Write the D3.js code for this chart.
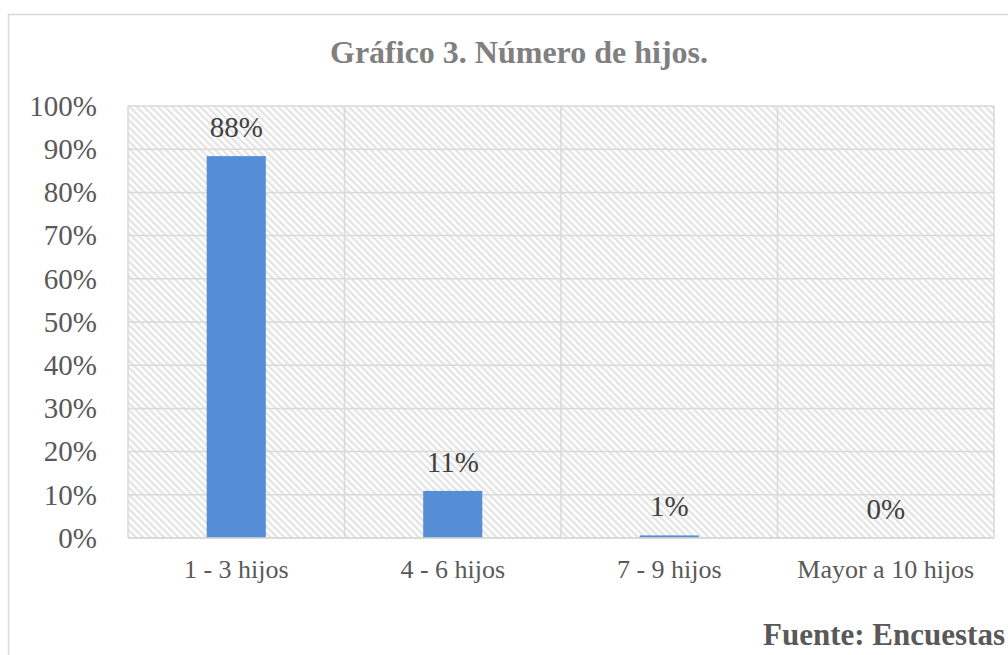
<!DOCTYPE html>
<html>
<head>
<meta charset="utf-8">
<script src="https://cdn.jsdelivr.net/npm/d3@7"></script>
<style>
  html, body { margin: 0; padding: 0; background: #fff; }
  svg { display: block; }
</style>
</head>
<body>
<script>
const categories = ["1 - 3 hijos", "4 - 6 hijos", "7 - 9 hijos", "Mayor a 10 hijos"];
const values = [0.884, 0.109, 0.006, 0];
const yTicks = [0, 0.1, 0.2, 0.3, 0.4, 0.5, 0.6, 0.7, 0.8, 0.9, 1.0];
const titleText = "Gráfico 3. Número de hijos.";
const sourceText = "Fuente: Encuestas";

const W = 1008, H = 655;
const plot = { left: 128, right: 994, top: 106, bottom: 538 };
const font = "'Liberation Serif', 'Times New Roman', Times, serif";

const svg = d3.select("body").append("svg").attr("width", W).attr("height", H);

const defs = svg.append("defs");
const pat = defs.append("pattern")
  .attr("id", "hatch").attr("patternUnits", "userSpaceOnUse")
  .attr("width", 5).attr("height", 5)
  .attr("patternTransform", "rotate(-45)");
pat.append("rect").attr("width", 5).attr("height", 5).attr("fill", "#ffffff");
pat.append("rect").attr("x", 0).attr("width", 2.4).attr("height", 5).attr("fill", "#e4e4e4");

// outer chart border
svg.append("rect")
  .attr("x", 8.5).attr("y", 14.5).attr("width", W + 20).attr("height", H + 20)
  .attr("fill", "#fff").attr("stroke", "#d9d9d9").attr("stroke-width", 1.5);

const x = d3.scaleBand().domain(categories).range([plot.left, plot.right]).paddingInner(0).paddingOuter(0);
const y = d3.scaleLinear().domain([0, 1]).range([plot.bottom, plot.top]);

// plot background hatch
svg.append("rect")
  .attr("x", plot.left).attr("y", plot.top)
  .attr("width", plot.right - plot.left).attr("height", plot.bottom - plot.top)
  .attr("fill", "url(#hatch)");

// horizontal gridlines
svg.append("g").selectAll("line").data(yTicks).join("line")
  .attr("x1", plot.left).attr("x2", plot.right)
  .attr("y1", d => y(d)).attr("y2", d => y(d))
  .attr("stroke", "#d9d9d9").attr("stroke-width", 1.5);

// vertical gridlines at category boundaries
const bounds = categories.map(c => x(c)).concat([x(categories[categories.length - 1]) + x.bandwidth()]);
svg.append("g").selectAll("line").data(bounds).join("line")
  .attr("x1", d => d).attr("x2", d => d)
  .attr("y1", plot.top).attr("y2", plot.bottom)
  .attr("stroke", "#d9d9d9").attr("stroke-width", 1.5);

// bars
const barW = x.bandwidth() * 0.273;
svg.append("g").selectAll("rect").data(values).join("rect")
  .attr("x", (d, i) => x(categories[i]) + x.bandwidth() / 2 - barW / 2)
  .attr("y", d => y(d))
  .attr("width", barW)
  .attr("height", d => y(0) - y(d))
  .attr("fill", "#558ed5");

// redraw baseline over bars
svg.append("line")
  .attr("x1", plot.left).attr("x2", plot.right)
  .attr("y1", y(0)).attr("y2", y(0))
  .attr("stroke", "#d9d9d9").attr("stroke-width", 1.5);

// data labels
svg.append("g").selectAll("text").data(values).join("text")
  .attr("x", (d, i) => x(categories[i]) + x.bandwidth() / 2)
  .attr("y", d => y(d) - 19)
  .attr("text-anchor", "middle")
  .style("font-family", font).attr("font-size", 29)
  .attr("fill", "#404040")
  .text(d => Math.round(d * 100) + "%");

// y axis labels
const yAxis = d3.axisLeft(y).tickValues(yTicks).tickFormat(d => Math.round(d * 100) + "%").tickSize(0).tickPadding(31);
const yg = svg.append("g").attr("transform", `translate(${plot.left},0)`).call(yAxis)
  .attr("font-family", null);
yg.select(".domain").remove();
yg.selectAll("text").style("font-family", font).attr("font-size", 29).attr("fill", "#595959");

// x axis labels
const xAxis = d3.axisBottom(x).tickSize(0).tickPadding(22);
const xg = svg.append("g").attr("transform", `translate(0,${plot.bottom})`).call(xAxis)
  .attr("font-family", null);
xg.select(".domain").remove();
xg.selectAll("text").style("font-family", font).attr("font-size", 26).attr("fill", "#595959");

// title
svg.append("text")
  .attr("x", 519).attr("y", 63)
  .attr("text-anchor", "middle")
  .style("font-family", font).attr("font-size", 32).attr("font-weight", "bold")
  .attr("fill", "#808080")
  .text(titleText);

// source
svg.append("text")
  .attr("x", 1005).attr("y", 645)
  .attr("text-anchor", "end")
  .style("font-family", font).attr("font-size", 31).attr("font-weight", "bold")
  .attr("fill", "#595959")
  .text(sourceText);
</script>
</body>
</html>
